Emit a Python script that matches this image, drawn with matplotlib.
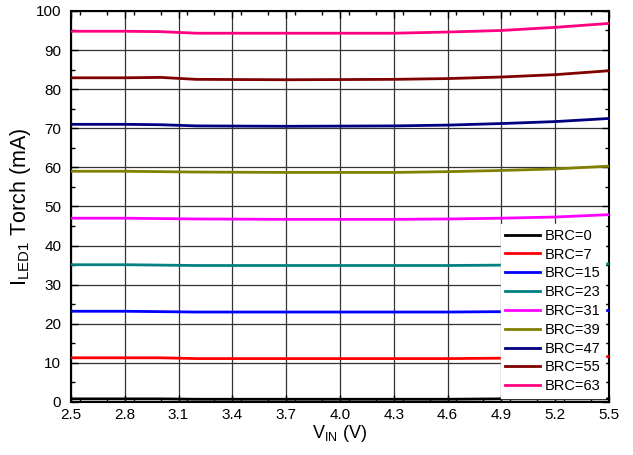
import matplotlib
matplotlib.use("Agg")
import matplotlib.pyplot as plt
from matplotlib.ticker import MultipleLocator

plt.rcParams['font.family'] = ['Liberation Sans', 'DejaVu Sans']
plt.rcParams['mathtext.fontset'] = 'custom'
plt.rcParams['mathtext.rm'] = 'Liberation Sans'

vin = [2.5, 2.8, 3.0, 3.2, 3.7, 4.3, 4.6, 4.9, 5.2, 5.5]
brc0 = [0.8, 0.8, 0.8, 0.7, 0.7, 0.7, 0.7, 0.8, 0.8, 0.8]
brc7 = [11.3, 11.3, 11.3, 11.1, 11.1, 11.1, 11.1, 11.2, 11.3, 11.6]
brc15 = [23.2, 23.2, 23.1, 23.0, 23.0, 23.0, 23.0, 23.1, 23.2, 23.4]
brc23 = [35.1, 35.1, 35.0, 34.9, 34.9, 34.9, 34.9, 35.0, 35.1, 35.3]
brc31 = [47.0, 47.0, 46.9, 46.8, 46.7, 46.7, 46.8, 47.0, 47.3, 47.9]
brc39 = [59.0, 59.0, 58.9, 58.8, 58.7, 58.7, 58.9, 59.2, 59.6, 60.3]
brc47 = [71.0, 71.0, 70.9, 70.6, 70.5, 70.6, 70.8, 71.2, 71.7, 72.5]
brc55 = [82.9, 82.9, 83.0, 82.5, 82.4, 82.5, 82.7, 83.1, 83.7, 84.7]
brc63 = [94.8, 94.8, 94.7, 94.3, 94.3, 94.3, 94.6, 95.0, 95.8, 96.8]

labels = ['BRC=0', 'BRC=7', 'BRC=15', 'BRC=23', 'BRC=31', 'BRC=39', 'BRC=47', 'BRC=55', 'BRC=63']
series = [brc0, brc7, brc15, brc23, brc31, brc39, brc47, brc55, brc63]
colors = ['#000000', '#FF0000', '#0000FF', '#008080', '#FF00FF', '#808000', '#000080', '#800000', '#FF0080']

xticks = [2.5, 2.8, 3.1, 3.4, 3.7, 4.0, 4.3, 4.6, 4.9, 5.2, 5.5]
xticklabels = ['2.5', '2.8', '3.1', '3.4', '3.7', '4.0', '4.3', '4.6', '4.9', '5.2', '5.5']

fig = plt.figure(figsize=(6.33, 4.55), dpi=100)
ax = fig.add_axes([0.112, 0.1165, 0.850, 0.8595])

for y, c, lab in zip(series, colors, labels):
    ax.plot(vin, y, color=c, lw=2.0, label=lab, zorder=3)

ax.set_xlim(2.5, 5.5)
ax.set_ylim(0, 100)
ax.set_xticks(xticks)
ax.set_xticklabels(xticklabels)
ax.set_yticks(range(0, 101, 10))
ax.xaxis.set_minor_locator(MultipleLocator(0.15))
ax.yaxis.set_minor_locator(MultipleLocator(5))
ax.tick_params(which='both', direction='in', top=True, right=True, labelsize=11, width=1.0)
ax.tick_params(which='major', length=5)
ax.tick_params(which='minor', length=3)
ax.tick_params(axis='y', which='major', pad=7)
ax.tick_params(axis='x', which='major', pad=4)
ax.grid(True, which='major', color='#333333', lw=0.9)
for s in ax.spines.values():
    s.set_linewidth(1.5)

ax.set_xlabel(r'V$_{\mathregular{IN}}$ (V)', fontsize=13, labelpad=1)
ax.set_ylabel(r'I$_{\mathregular{LED1}}$ Torch (mA)', fontsize=15.5, labelpad=2)

leg = ax.legend(loc='lower right', fontsize=10.5, frameon=True, fancybox=False,
                edgecolor='white', framealpha=1.0, handlelength=2.4,
                handletextpad=0.3, labelspacing=0.33, borderpad=0.3,
                borderaxespad=0.3)
leg.set_zorder(5)

fig.savefig('out.png', dpi=100)
